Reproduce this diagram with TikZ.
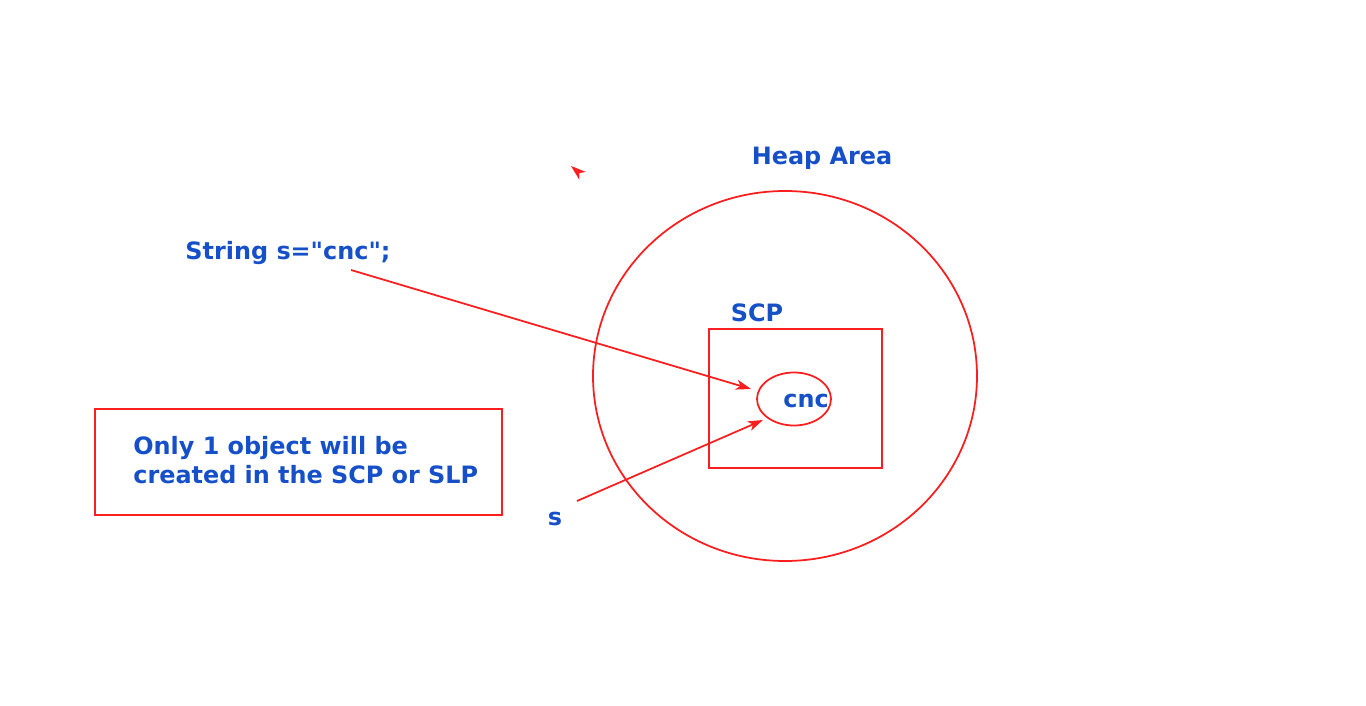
\documentclass[tikz,border=0pt]{standalone}
\usepackage{fontspec}
\setmainfont{DejaVu Sans}
\usetikzlibrary{arrows.meta}
\definecolor{heapred}{RGB}{250,30,30}
\definecolor{textblue}{RGB}{22,80,200}
\tikzset{
  lbl/.style={text=textblue,font=\bfseries\fontsize{13.6}{16.4}\selectfont,inner sep=0pt},
  redline/.style={draw=heapred,line width=1pt},
  ptr/.style={redline,-{Stealth[length=0.3cm,width=0.2cm,inset=0.08cm]}}
}
\begin{document}
\begin{tikzpicture}[x=0.02cm,y=-0.02cm]
  \useasboundingbox (0,0) rectangle (1366,706);
  % heap and pool
  \draw[redline] (785,376) ellipse [x radius=192,y radius=185];
  \draw[redline] (709,329) rectangle (882,468);
  \draw[redline] (794,399) ellipse [x radius=37,y radius=26.5];
  \draw[redline] (95,409) rectangle (502,515);
  % labels
  \draw
    (822,158) node[lbl] (heap){Heap Area}
    (757,313) node[lbl] (scp){SCP}
    (806,401) node[lbl] (cnc){cnc}
    (288,253) node[lbl] (decl){String s=\textquotedbl cnc\textquotedbl;}
    (555,519) node[lbl] (s){s}
    (133,460) node[lbl,anchor=west,align=left] (note){Only 1 object will be\\created in the SCP or SLP};
  \coordinate (declend) at (351,270);
  \coordinate (cnctop) at (751,389);
  \coordinate (send) at (577,501);
  \coordinate (cncbot) at (763,420);
  \coordinate (stub) at (584,177);
  \coordinate (stubtip) at (571,166);
  \begin{scope}[ptr]
    \draw (declend) to (cnctop);
    \draw (send) to (cncbot);
    \draw[shorten <=0.2cm] (stub) to (stubtip);
  \end{scope}
\end{tikzpicture}
\end{document}
